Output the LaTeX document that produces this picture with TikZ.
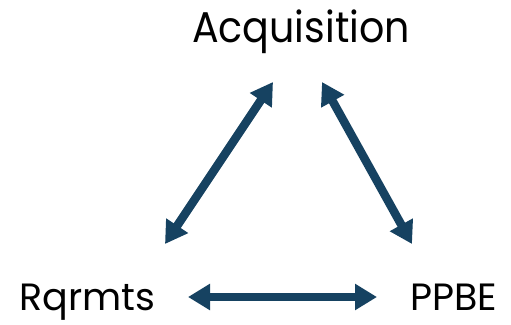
\documentclass[tikz,border=0pt]{standalone}
\usepackage{fontspec}
\setmainfont{Poppins}
\newfontfamily\acqfont[FakeStretch=0.92]{Poppins}
\usetikzlibrary{arrows.meta}
\definecolor{arrowblue}{RGB}{22,66,97}
\tikzset{
  lbl/.style={anchor=base, inner sep=0pt, text=black},
  dbl/.style={draw=arrowblue, line width=8.5pt, {Triangle[width=25pt,length=22pt]}-{Triangle[width=25pt,length=22pt]}},
}
\begin{document}
\begin{tikzpicture}[x=1pt,y=1pt]
\useasboundingbox (0,0) rectangle (511,-324);
\node[lbl, font=\acqfont\fontsize{43}{50}\selectfont] (acq) at (301,-42) {Acquisition};
\node[lbl, font=\fontsize{38}{44}\selectfont] (rq) at (87.5,-310) {Rqrmts};
\node[lbl, font=\fontsize{38}{44}\selectfont] (pp) at (453.5,-310) {PPBE};
\coordinate (aL) at (273,-82);
\coordinate (aR) at (322,-82);
\coordinate (rT) at (165,-244);
\coordinate (rR) at (188,-297);
\coordinate (pT) at (412,-244);
\coordinate (pL) at (377,-297);
\draw[dbl] (rT) -- (aL);
\draw[dbl] (aR) -- (pT);
\draw[dbl] (rR) -- (pL);
\end{tikzpicture}
\end{document}
